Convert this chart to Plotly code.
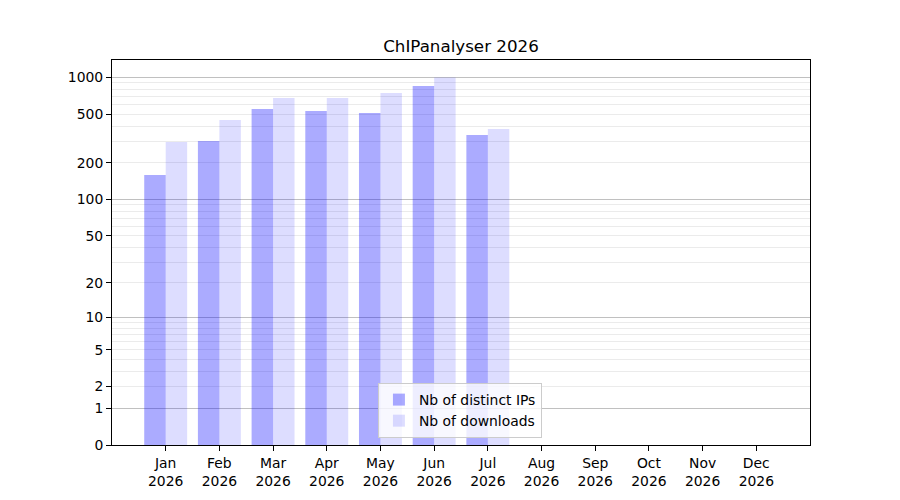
import plotly.graph_objects as go
import numpy as np

months = ["Jan", "Feb", "Mar", "Apr", "May", "Jun",
          "Jul", "Aug", "Sep", "Oct", "Nov", "Dec"]
year = "2026"
distinct_ips = [159, 301, 551, 530, 511, 848, 338]
downloads = [296, 448, 678, 678, 744, 995, 378]

ytick_values = [0, 1, 2, 5, 10, 20, 50, 100, 200, 500, 1000]
major_grid_values = [1, 10, 100, 1000]


def tr(v):
  # y axis is log10(1 + n)
  return np.log10(1 + np.asarray(v, dtype=float))


labels = [f"{m}<br>{year}" for m in months]
minor_vals = [m * 10 ** e for e in range(3) for m in range(2, 10)
              if m * 10 ** e not in ytick_values]

font = "DejaVu Sans"
yrange = [0, 3.142]

fig = go.Figure()

fig.add_trace(go.Bar(
                    x=labels[:len(distinct_ips)],
                    y=tr(distinct_ips),
                    name='Nb of distinct IPs',
                    marker=dict(color='rgba(0,0,255,0.33)', line=dict(width=0)),
                  ))

fig.add_trace(go.Bar(
                    x=labels[:len(downloads)],
                    y=tr(downloads),
                    name='Nb of downloads',
                    marker=dict(color='rgba(0,0,255,0.135)', line=dict(width=0)),
                  ))

# invisible trace so the overlay axis (darker decade grid) is drawn
fig.add_trace(go.Scatter(x=[labels[0]], y=[0], yaxis='y2', mode='markers',
                         marker=dict(opacity=0), showlegend=False, hoverinfo='skip'))

fig.update_layout(
    width=900, height=500,
    paper_bgcolor='white', plot_bgcolor='white',
    margin=dict(l=112, r=90, t=60, b=55),
    font=dict(family=font, size=13.9, color='black'),
    title=dict(text=f"ChIPanalyser {year}", x=0.5122, xanchor='center',
               y=0.908, yanchor='middle', yref='container',
               font=dict(size=16.7, color='black')),
    barmode='group', bargap=0.2, bargroupgap=0,
    xaxis=dict(
        type='category', categoryorder='array', categoryarray=labels,
        range=[-1.0, 12.0],
        showline=True, linecolor='black', linewidth=1, mirror=True,
        ticks='outside', ticklen=5, tickwidth=1, tickcolor='black',
        showgrid=False, zeroline=False,
    ),
    yaxis=dict(
        range=yrange,
        tickmode='array', tickvals=tr(ytick_values),
        ticktext=[str(v) for v in ytick_values],
        showline=True, linecolor='black', linewidth=1, mirror=True,
        ticks='outside', ticklen=5, tickwidth=1, tickcolor='black',
        showgrid=True, gridcolor='#ebebeb', gridwidth=1,
        zeroline=False,
        minor=dict(tickmode='array', tickvals=tr(minor_vals),
                   showgrid=True, gridcolor='#ebebeb', gridwidth=1, ticks=''),
    ),
    yaxis2=dict(
        overlaying='y', anchor='x', side='left',
        range=yrange,
        tickmode='array', tickvals=tr(major_grid_values),
        showticklabels=False, ticks='',
        showgrid=True, gridcolor='#c0c0c0', gridwidth=1,
        zeroline=False, showline=False,
    ),
    legend=dict(
        x=0.381, y=0.018, xanchor='left', yanchor='bottom',
        bgcolor='rgba(255,255,255,0.8)', bordercolor='#cccccc', borderwidth=1,
        font=dict(size=13.9), tracegroupgap=0,
    ),
    showlegend=True,
)

# drop the default page margin so the figure sits at the window's corner
fig.write_html("out.html", config={'displayModeBar': False},
               post_script="document.body.style.margin='0';")
